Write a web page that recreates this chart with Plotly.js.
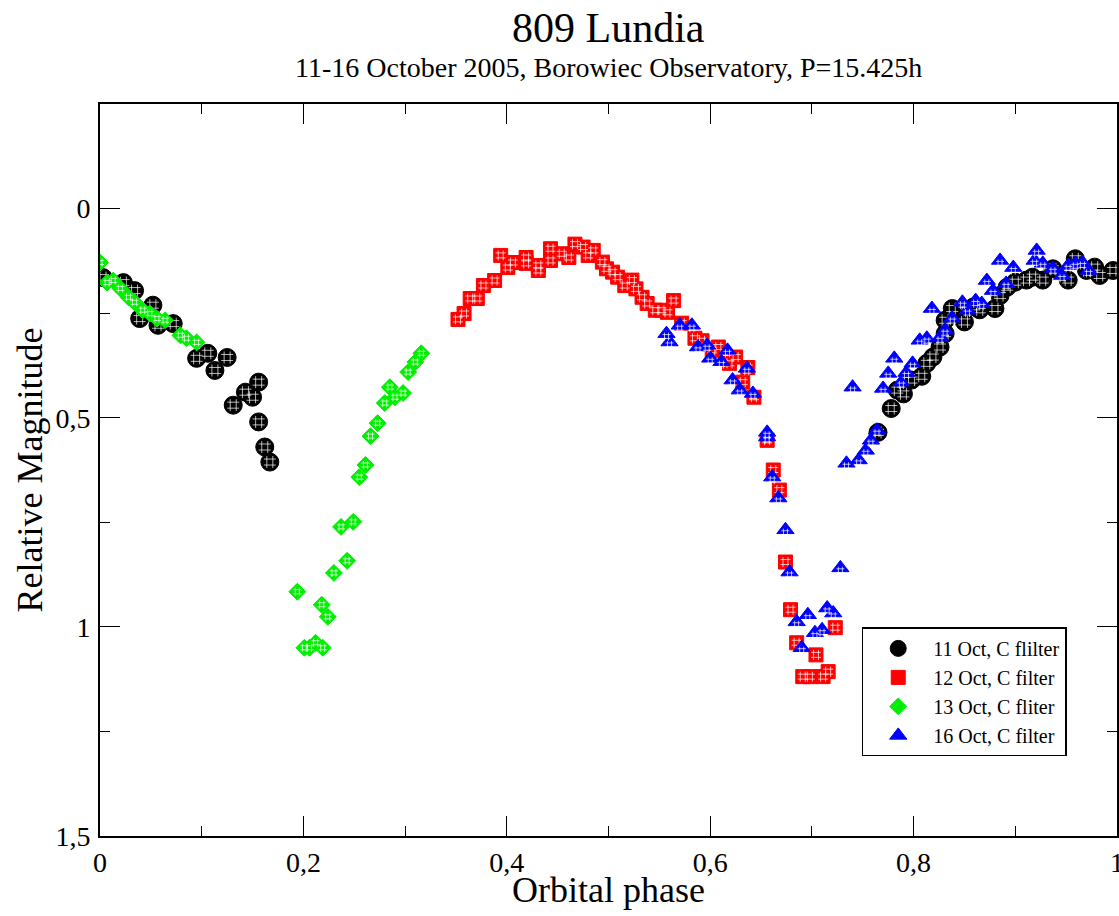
<!DOCTYPE html>
<html>
<head>
<meta charset="utf-8">
<script src="https://cdn.plot.ly/plotly-3.0.1.min.js"></script>
<style>html,body{margin:0;padding:0;background:#fff;overflow:hidden;}#chart{width:1119px;height:916px;}</style>
</head>
<body>
<div id="chart"></div>
<script>
// 11 Oct, C flilter (black circles)
var oct11Phase = [0.003,0.023,0.034,0.039,0.052,0.057,0.072,0.095,0.106,0.113,0.125,0.131,0.143,0.150,0.156,0.156,0.162,0.167,
  0.765,0.778,0.784,0.790,0.798,0.808,0.813,0.819,0.826,0.831,0.831,0.838,0.850,0.859,0.865,0.880,0.885,0.892,0.900,0.911,0.917,0.927,0.937,0.952,0.959,0.970,0.978,0.983,0.996];
var oct11Mag = [0.165,0.177,0.196,0.263,0.231,0.279,0.275,0.358,0.346,0.387,0.356,0.470,0.439,0.451,0.415,0.510,0.570,0.606,
  0.535,0.478,0.434,0.443,0.410,0.401,0.370,0.355,0.331,0.299,0.267,0.239,0.271,0.235,0.242,0.239,0.208,0.188,0.176,0.171,0.164,0.171,0.144,0.171,0.120,0.148,0.140,0.160,0.148];

// 12 Oct, C filter (red squares)
var oct12Phase = [0.352,0.358,0.364,0.371,0.377,0.388,0.394,0.401,0.406,0.419,0.419,0.431,0.431,0.443,0.443,0.454,0.461,0.467,0.475,0.480,0.485,0.494,0.498,0.504,0.509,0.516,0.523,0.527,0.533,0.538,0.546,0.552,0.558,0.564,0.572,0.585,0.592,0.602,0.608,0.619,0.625,0.632,0.637,0.643,
  0.656,0.662,0.668,0.674,0.679,0.685,0.691,0.698,0.704,0.711,0.716,0.723];
var oct12Mag = [0.265,0.251,0.215,0.215,0.184,0.172,0.112,0.141,0.129,0.117,0.131,0.136,0.148,0.096,0.124,0.108,0.117,0.085,0.092,0.112,0.100,0.128,0.144,0.152,0.164,0.184,0.171,0.192,0.212,0.227,0.243,0.243,0.248,0.220,0.274,0.310,0.316,0.339,0.331,0.370,0.355,0.415,0.380,0.451,
  0.554,0.625,0.673,0.845,0.959,1.038,1.119,1.119,1.067,1.119,1.107,1.002];

// 13 Oct, C fliter (green diamonds)
var oct13Phase = [0.000,0.007,0.013,0.020,0.028,0.034,0.042,0.049,0.056,0.064,0.079,0.085,0.095,
  0.194,0.201,0.206,0.212,0.219,0.218,0.224,0.230,0.237,0.243,0.249,0.255,0.261,0.266,0.273,0.280,0.285,0.290,0.298,0.303,0.310,0.316];
var oct13Mag = [0.129,0.177,0.172,0.191,0.212,0.224,0.243,0.251,0.263,0.267,0.303,0.310,0.320,
  0.916,1.050,1.050,1.038,1.050,0.947,0.976,0.871,0.761,0.842,0.749,0.642,0.613,0.544,0.513,0.465,0.427,0.451,0.441,0.391,0.367,0.346];

// 16 Oct, C filter (blue triangles)
var oct16Phase = [0.557,0.560,0.570,0.582,0.588,0.597,0.600,0.611,0.617,0.622,0.629,0.636,0.642,0.656,0.656,0.661,0.667,0.674,0.678,0.685,0.690,0.696,0.703,0.710,0.715,0.721,0.728,
  0.734,0.740,0.746,0.753,0.758,0.764,0.770,0.775,0.781,0.788,0.793,0.799,0.806,0.813,0.818,0.826,0.831,0.838,0.848,0.853,0.861,0.867,0.872,0.878,0.885,0.891,0.898,0.919,0.921,0.927,0.937,0.946,0.952,0.959,0.966,0.972];
var oct16Mag = [0.299,0.319,0.279,0.279,0.331,0.327,0.358,0.366,0.339,0.410,0.434,0.382,0.442,0.535,0.546,0.642,0.692,0.768,0.869,0.988,1.050,0.971,1.014,1.007,0.955,0.967,0.859,
  0.609,0.427,0.601,0.578,0.554,0.530,0.430,0.394,0.358,0.415,0.392,0.370,0.315,0.310,0.239,0.308,0.291,0.262,0.224,0.243,0.220,0.227,0.172,0.196,0.124,0.179,0.141,0.124,0.100,0.131,0.143,0.160,0.136,0.131,0.129,0.148];

var seriesNames = ['11 Oct, C flilter','12 Oct, C filter','13 Oct, C fliter','16 Oct, C filter'];
var seriesX = [oct11Phase, oct12Phase, oct13Phase, oct16Phase];
var seriesY = [oct11Mag, oct12Mag, oct13Mag, oct16Mag];
var colors = ['#000000','#ff0000','#00ee00','#0000ff'];
var symbols = ['circle','square','diamond','triangle-up'];
var sizes = [18,14,13,15];
var hatchSizes = [12,10,8,8];

var traces = [];
for (var i = 0; i < 4; i++) {
  traces.push({
    x: seriesX[i], y: seriesY[i], type: 'scatter', mode: 'markers', name: seriesNames[i],
    marker: {symbol: symbols[i], size: sizes[i], color: colors[i], line: {color: colors[i], width: 1}}
  });
  traces.push({
    x: seriesX[i], y: seriesY[i].map(function(v){return i===3 ? v + 0.007 : v;}), type: 'scatter', mode: 'markers', showlegend: false, hoverinfo: 'skip',
    marker: {symbol: 'hash-open', size: hatchSizes[i], color: 'rgba(255,255,255,0.7)', line: {color: 'rgba(255,255,255,0.7)', width: 1}}
  });
}

var font = 'Liberation Serif';
var layout = {
  width: 1119, height: 916,
  margin: {l: 100, r: 2, t: 104, b: 80},
  paper_bgcolor: '#fff', plot_bgcolor: '#fff',
  separators: ', ',
  font: {family: font, color: '#000'},
  annotations: [
    {text: '809 Lundia', xref: 'paper', yref: 'paper', x: 0.5, y: 1.1038, xanchor: 'center', yanchor: 'middle', showarrow: false, font: {family: font, size: 42, color: '#000'}},
    {text: '11-16 October 2005, Borowiec Observatory, P=15.425h', xref: 'paper', yref: 'paper', x: 0.5, y: 1.0505, xanchor: 'center', yanchor: 'middle', showarrow: false, font: {family: font, size: 28, color: '#000'}},
    {text: 'Orbital phase', xref: 'paper', yref: 'paper', x: 0.5, y: -0.0738, xanchor: 'center', yanchor: 'middle', showarrow: false, font: {family: font, size: 36, color: '#000'}}
  ],
  xaxis: {range: [0, 1], dtick: 0.2, tick0: 0, ticks: 'inside', ticklen: 20, tickwidth: 1, tickcolor: '#000',
          minor: {dtick: 0.1, ticks: 'inside', ticklen: 10, tickwidth: 1, tickcolor: '#000', showgrid: false},
          showline: true, linewidth: 2, linecolor: '#000', mirror: 'ticks', showgrid: false, zeroline: false,
          ticklabeloverflow: 'allow', ticklabelstandoff: 0,
          tickfont: {family: font, size: 28}},
  yaxis: {range: [1.5, -0.25], dtick: 0.5, tick0: 0, ticks: 'inside', ticklen: 20, tickwidth: 1, tickcolor: '#000',
          minor: {dtick: 0.25, ticks: 'inside', ticklen: 10, tickwidth: 1, tickcolor: '#000', showgrid: false},
          showline: true, linewidth: 2, linecolor: '#000', mirror: 'ticks', showgrid: false, zeroline: false,
          ticklabelstandoff: 2,
          tickfont: {family: font, size: 28}, title: {text: 'Relative Magnitude', font: {family: font, size: 36}, standoff: 2}},
  legend: {x: 0.749, y: 0.285, xanchor: 'left', yanchor: 'top', bgcolor: '#fff', bordercolor: '#000', borderwidth: 1.5,
           font: {family: font, size: 20}, itemwidth: 60, tracegroupgap: 0},
  showlegend: true
};

Plotly.newPlot('chart', traces, layout, {displayModeBar: false, staticPlot: true});
</script>
</body>
</html>
